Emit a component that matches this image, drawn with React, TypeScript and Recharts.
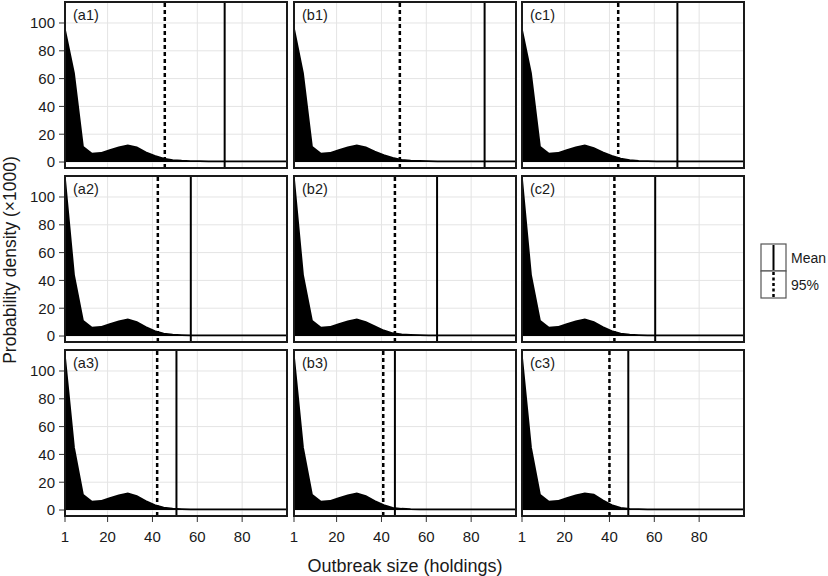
import { ComposedChart, Area, XAxis, YAxis, CartesianGrid, ReferenceLine } from "recharts";

// outbreak size grid (holdings) and density (x1000) per panel
const X_VALUES = [1, 5, 9, 13, 17, 21, 25, 29, 33, 37, 41, 45, 49, 53, 57, 61, 65, 69, 73, 77, 81, 85, 89, 93, 97, 100];

const DENSITY_A1 = [95, 64, 11, 6, 6.5, 8.5, 10.5, 12, 10.5, 7, 4.5, 2.5, 1.3, 0.9, 0.7, 0.6, 0.5, 0.5, 0.4, 0.4, 0.4, 0.4, 0.4, 0.4, 0.4, 0.4];
const DENSITY_B1 = [96, 64, 11, 6, 6.5, 8.5, 10.5, 12, 10.5, 7.5, 5, 3, 1.6, 1, 0.8, 0.6, 0.5, 0.5, 0.5, 0.4, 0.4, 0.4, 0.4, 0.4, 0.4, 0.4];
const DENSITY_C1 = [95, 64, 11, 6, 6.5, 8.5, 10.5, 12, 10, 7, 4.5, 2.5, 1.3, 0.8, 0.6, 0.5, 0.5, 0.4, 0.4, 0.4, 0.4, 0.4, 0.4, 0.4, 0.4, 0.4];
const DENSITY_A2 = [113, 44, 11, 6, 6.5, 8.5, 10.5, 12, 10, 6.5, 3.5, 1.8, 1, 0.7, 0.5, 0.5, 0.4, 0.4, 0.4, 0.4, 0.4, 0.4, 0.4, 0.4, 0.4, 0.4];
const DENSITY_B2 = [113, 44, 11, 6, 6.5, 8.5, 10.5, 12, 10, 7, 4, 2, 1.1, 0.8, 0.6, 0.5, 0.5, 0.4, 0.4, 0.4, 0.4, 0.4, 0.4, 0.4, 0.4, 0.4];
const DENSITY_C2 = [113, 44, 11, 6, 6.5, 8.5, 10.5, 12, 10, 6.5, 3.5, 1.8, 1, 0.7, 0.5, 0.5, 0.4, 0.4, 0.4, 0.4, 0.4, 0.4, 0.4, 0.4, 0.4, 0.4];
const DENSITY_A3 = [110, 45, 11, 6, 6.5, 8.5, 10.5, 12, 10, 6.5, 3.5, 1.8, 1, 0.7, 0.5, 0.5, 0.4, 0.4, 0.4, 0.4, 0.5, 0.5, 0.5, 0.5, 0.5, 0.5];
const DENSITY_B3 = [110, 45, 11, 6, 6.5, 8.5, 10.5, 12, 10, 6.5, 3.5, 1.6, 0.9, 0.6, 0.5, 0.4, 0.4, 0.4, 0.4, 0.4, 0.4, 0.4, 0.4, 0.4, 0.4, 0.4];
const DENSITY_C3 = [110, 45, 11, 6, 6.5, 8.5, 10.5, 12, 11, 7, 3.5, 1.5, 0.8, 0.6, 0.5, 0.4, 0.4, 0.4, 0.4, 0.4, 0.4, 0.4, 0.4, 0.4, 0.4, 0.4];

const DENSITIES = [DENSITY_A1, DENSITY_B1, DENSITY_C1, DENSITY_A2, DENSITY_B2, DENSITY_C2, DENSITY_A3, DENSITY_B3, DENSITY_C3];
const PANEL_LABELS = ["(a1)", "(b1)", "(c1)", "(a2)", "(b2)", "(c2)", "(a3)", "(b3)", "(c3)"];
const MEANS = [72.2, 86, 70.3, 57.1, 64.8, 60.4, 50.7, 46, 48.4];
const Q95 = [45.5, 48.2, 43.9, 42.4, 46, 42.2, 42.1, 40.8, 40];

const X_TICKS = [1, 20, 40, 60, 80];
const Y_TICKS = [0, 20, 40, 60, 80, 100];
const GRID_X = [20, 40, 60, 80];

// layout
const COL_LEFT = [65, 294, 522];
const ROW_TOP = [2, 176, 350];
const PANEL_W = 222;
const PANEL_H = 166;
const Y_AXIS_W = 55;
const X_AXIS_H = 34;
const PAD = { top: 2, right: 4, bottom: 10, left: 10 };
const FONT = "'Liberation Sans', Arial, Helvetica, sans-serif";

const tickStyle = { fontSize: 15, fill: "#1a1a1a", fontFamily: FONT };

function Panel({ index }: { index: number }) {
  const row = Math.floor(index / 3);
  const col = index % 3;
  const showY = col === 0;
  const showX = row === 2;
  const data = X_VALUES.map((x, i) => ({ x, d: DENSITIES[index][i] }));
  const yw = showY ? Y_AXIS_W : 0;
  const xh = showX ? X_AXIS_H : 0;

  return (
    <div
      style={{
        position: "absolute",
        left: COL_LEFT[col] - yw - PAD.left,
        top: ROW_TOP[row] - PAD.top,
      }}
    >
      <ComposedChart
        width={PANEL_W + yw + PAD.left + PAD.right}
        height={PANEL_H + xh + PAD.top + PAD.bottom}
        data={data}
        margin={PAD}
      >
        <CartesianGrid stroke="#e4e4e4" horizontalValues={Y_TICKS} verticalValues={GRID_X} />
        <XAxis
          type="number"
          dataKey="x"
          domain={[1, 100]}
          ticks={X_TICKS}
          interval={0}
          allowDataOverflow
          hide={!showX}
          height={X_AXIS_H}
          axisLine={false}
          tickLine={{ stroke: "#333" }}
          tickSize={6}
          tickMargin={9}
          fontSize={15}
          tick={tickStyle}
        />
        <YAxis
          type="number"
          domain={[-4.3, 115.1]}
          ticks={Y_TICKS}
          interval={0}
          allowDataOverflow
          hide={!showY}
          width={Y_AXIS_W}
          axisLine={false}
          tickLine={{ stroke: "#333" }}
          tickSize={6}
          tickMargin={4}
          fontSize={15}
          tick={tickStyle}
        />
        <Area
          type="linear"
          dataKey="d"
          baseValue={0}
          fill="#000"
          fillOpacity={1}
          stroke="#000"
          strokeWidth={1.8}
          isAnimationActive={false}
        />
        <ReferenceLine x={Q95[index]} stroke="#000" strokeWidth={2.5} strokeDasharray="4 3" />
        <ReferenceLine x={MEANS[index]} stroke="#000" strokeWidth={2} />
      </ComposedChart>
    </div>
  );
}

export default function App() {
  return (
    <div
      style={{
        position: "absolute",
        left: 0,
        top: 0,
        width: 828,
        height: 576,
        background: "#fff",
        fontFamily: FONT,
        overflow: "hidden",
      }}
    >
      {PANEL_LABELS.map((_, i) => (
        <Panel key={i} index={i} />
      ))}
      <svg
        width={828}
        height={576}
        style={{ position: "absolute", left: 0, top: 0, pointerEvents: "none" }}
        fontFamily={FONT}
      >
        {PANEL_LABELS.map((label, i) => {
          const left = COL_LEFT[i % 3];
          const top = ROW_TOP[Math.floor(i / 3)];
          return (
            <g key={label}>
              <rect x={left} y={top} width={PANEL_W} height={PANEL_H} fill="none" stroke="#1a1a1a" strokeWidth={2} />
              <text x={left + 8} y={top + 18} fontSize={14.5} fill="#1a1a1a">
                {label}
              </text>
            </g>
          );
        })}
        <text transform="translate(16,260) rotate(-90)" textAnchor="middle" fontSize={17.5} fill="#1a1a1a">
          Probability density (×1000)
        </text>
        <text x={405} y={572} textAnchor="middle" fontSize={18} fill="#1a1a1a">
          Outbreak size (holdings)
        </text>
        <rect x={761} y={244} width={25} height={27} fill="#fff" stroke="#555" strokeWidth={1.2} />
        <rect x={761} y={271} width={25} height={27} fill="#fff" stroke="#555" strokeWidth={1.2} />
        <line x1={773.5} x2={773.5} y1={245} y2={270} stroke="#000" strokeWidth={2} />
        <line x1={773.5} x2={773.5} y1={272} y2={297} stroke="#000" strokeWidth={2.5} strokeDasharray="3 2.5" />
        <text x={791} y={263} fontSize={14} fill="#1a1a1a">Mean</text>
        <text x={791} y={290} fontSize={14} fill="#1a1a1a">95%</text>
      </svg>
    </div>
  );
}
